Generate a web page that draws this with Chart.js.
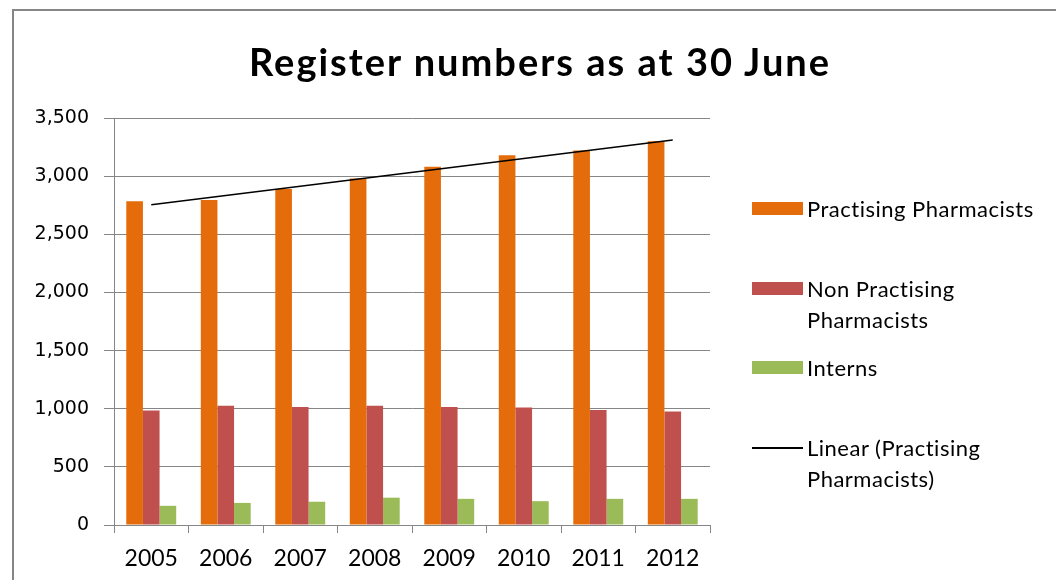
<!DOCTYPE html>
<html>
<head>
<meta charset="utf-8">
<script src="https://cdn.jsdelivr.net/npm/chart.js@4.4.1/dist/chart.umd.min.js"></script>
<style>
  html, body { margin: 0; padding: 0; background: #fff; }
  #wrap { position: relative; width: 1056px; height: 580px; overflow: hidden; }
  #frame { position: absolute; left: 12px; top: 9px; width: 1100px; height: 620px; border: 2px solid #868686; border-right: none; border-bottom: none; }
  #chart { position: absolute; left: 0; top: 0; }
  #title { position: absolute; left: 0; top: 38px; width: 1080px; text-align: center; font: bold 38px Lato, sans-serif; letter-spacing: 2px; line-height: 46px; color: #000; }
  .item { position: absolute; left: 752px; font: 22px Lato, sans-serif; letter-spacing: 0.5px; line-height: 31px; color: #000; white-space: pre-line; }
  .item .key { position: absolute; left: 0; top: 9px; width: 51px; height: 13px; }
  .item .key.line { top: 15px; height: 2px; }
  .item .txt { margin-left: 55px; }
</style>
</head>
<body>
<div id="wrap">
  <div id="frame"></div>
  <canvas id="chart" width="1056" height="580"></canvas>
  <div id="title">Register numbers as at 30 June</div>
  <div id="legend"></div>
</div>
<script>
// register numbers at 30 June each year
var years = ["2005", "2006", "2007", "2008", "2009", "2010", "2011", "2012"];
var practising = [2785, 2795, 2890, 2980, 3080, 3180, 3220, 3300];
var nonPractising = [985, 1025, 1015, 1025, 1015, 1010, 990, 975];
var interns = [165, 190, 200, 235, 225, 205, 225, 225];
// linear trendline of practising pharmacists, read at both ends
var trend = [2755, null, null, null, null, null, null, 3310];
var yTicks = [0, 500, 1000, 1500, 2000, 2500, 3000, 3500];

var seriesNames = ["Practising Pharmacists", "Non Practising Pharmacists", "Interns", "Linear (Practising Pharmacists)"];
var legendText = ["Practising Pharmacists", "Non Practising\nPharmacists", "Interns", "Linear (Practising\nPharmacists)"];
var legendTops = [193, 273, 352, 432];

var grey = "#868686";

var chart = new Chart(document.getElementById("chart"), {
  type: "bar",
  data: {
    labels: years,
    datasets: [
      {
        label: seriesNames[0],
        data: practising,
        backgroundColor: "#E46C0A",
        order: 1
      },
      {
        label: seriesNames[1],
        data: nonPractising,
        backgroundColor: "#C0504D",
        order: 1
      },
      {
        label: seriesNames[2],
        data: interns,
        backgroundColor: "#9BBB59",
        order: 1
      },
      {
        type: "line",
        label: seriesNames[3],
        data: trend,
        borderColor: "#000",
        borderWidth: 1.5,
        pointRadius: 0,
        spanGaps: true,
        fill: false,
        order: 0
      }
    ]
  },
  options: {
    responsive: false,
    animation: false,
    layout: { padding: { left: 14, right: 346, top: 118, bottom: 7 } },
    datasets: {
      bar: { barPercentage: 1, categoryPercentage: 0.67 }
    },
    plugins: {
      legend: { display: false },
      title: { display: false },
      tooltip: { enabled: false }
    },
    scales: {
      x: {
        grid: { display: true, drawOnChartArea: false, color: grey, tickLength: 8, offset: true },
        border: { color: grey, width: 1 },
        ticks: { color: "#000", font: { family: "Lato", size: 23 }, padding: 12, maxRotation: 0 },
        afterFit: function(s) { s.height = 48; }
      },
      y: {
        min: 0,
        max: 3500,
        afterBuildTicks: function(s) { s.ticks = yTicks.map(function(v) { return { value: v }; }); },
        grid: { color: grey, tickLength: 10 },
        border: { color: grey, width: 1 },
        ticks: {
          color: "#000",
          font: { family: "DejaVu Sans", size: 19 },
          padding: 15,
          callback: function(v) { return v.toLocaleString("en-US"); }
        },
        afterFit: function(s) { s.width = 100; }
      }
    }
  }
});

// legend built from the chart datasets
var legend = document.getElementById("legend");
chart.data.datasets.forEach(function(ds, i) {
  var item = document.createElement("div");
  item.className = "item";
  item.style.top = legendTops[i] + "px";
  var key = document.createElement("div");
  key.className = ds.type === "line" ? "key line" : "key";
  key.style.background = ds.type === "line" ? ds.borderColor : ds.backgroundColor;
  var txt = document.createElement("div");
  txt.className = "txt";
  txt.textContent = legendText[i];
  item.appendChild(key);
  item.appendChild(txt);
  legend.appendChild(item);
});
</script>
</body>
</html>
